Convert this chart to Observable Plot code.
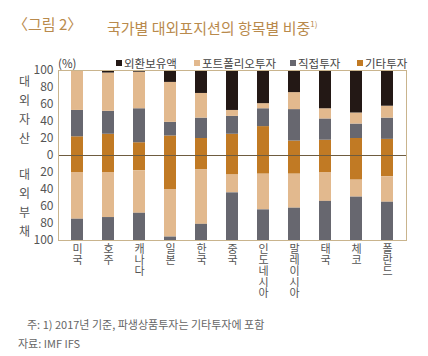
<!DOCTYPE html>
<html><head><meta charset="utf-8">
<script src="https://cdn.jsdelivr.net/npm/d3@7"></script>
<script src="https://cdn.jsdelivr.net/npm/@observablehq/plot@0.6"></script>
<style>
html,body{margin:0;padding:0;background:#fff;}
#wrap{position:relative;width:428px;height:356px;font-family:'Noto Sans CJK KR','Noto Sans',sans-serif;color:#555;overflow:hidden;}
.abs{position:absolute;white-space:nowrap;}
.title{font-size:15px;color:#b98a4c;top:13px;line-height:22px;}
.leg{font-size:11.5px;top:55px;line-height:16px;color:#444;}
.leg i{display:inline-block;width:6px;height:6px;margin-right:2px;vertical-align:2px;}
.note{font-size:11px;color:#666;line-height:14px;}
#chart{position:absolute;left:0;top:55px;}
#chart svg{overflow:visible;}
.vlab text{writing-mode:vertical-rl;text-orientation:upright;}
</style></head>
<body><div id="wrap">
<div id="chart"></div>
<div class="abs title" style="left:13px">〈그림 2〉</div>
<div class="abs title" style="left:107px">국가별 대외포지션의 항목별 비중<sup style="font-size:8px;vertical-align:7px">1)</sup></div>
<div class="abs leg" style="left:58px;">(%)</div>
<div id="legend"></div>
<div class="abs note" style="left:27px;top:317px">주: 1) 2017년 기준, 파생상품투자는 기타투자에 포함</div>
<div class="abs note" style="left:18px;top:336px">자료: IMF IFS</div>
</div>
<script>
const countries = ["미국","호주","캐나다","일본","한국","중국","인도네시아","말레이시아","태국","체코","폴란드"];
const categories = ["외환보유액","포트폴리오투자","직접투자","기타투자"];
const colors = ["#231815","#e2b98e","#67676f","#c17a24"];
// 대외자산 (positive)
const assetOther     = [22,25,15,23,20,25,34,17,18,20,19];
const assetDirect    = [31,27,40,16,24,21,21,37,25,17,25];
const assetPortfolio = [46,45,43,47,29, 7, 6,20,12,13,14];
const assetReserves  = [ 1, 3, 2,14,27,47,39,26,45,50,42];
// 대외부채 (negative)
const liabOther      = [20,20,18,40,17,23,22,22,20,29,25];
const liabPortfolio  = [55,53,50,56,64,21,42,40,34,20,30];
const liabDirect     = [25,27,32, 4,19,56,36,38,46,51,45];
const yTicks = [-100,-80,-60,-40,-20,0,20,40,60,80,100];

const rows = [];
countries.forEach((c,i)=>{
  rows.push({c, cat:"기타투자", v:assetOther[i]});
  rows.push({c, cat:"직접투자", v:assetDirect[i]});
  rows.push({c, cat:"포트폴리오투자", v:assetPortfolio[i]});
  rows.push({c, cat:"외환보유액", v:assetReserves[i]});
  rows.push({c, cat:"기타투자", v:-liabOther[i]});
  rows.push({c, cat:"포트폴리오투자", v:-liabPortfolio[i]});
  rows.push({c, cat:"직접투자", v:-liabDirect[i]});
});

const legX = [116,194,290,357];
const leg = document.getElementById("legend");
categories.forEach((k,i)=>{
  const d = document.createElement("div");
  d.className="abs leg"; d.style.left=legX[i]+"px";
  d.innerHTML = `<i style="background:${colors[i]}"></i>${k}`;
  leg.appendChild(d);
});

const chart = Plot.plot({
  width: 428, height: 250,
  marginLeft: 58, marginRight: 22, marginTop: 15, marginBottom: 65,
  style: {fontFamily: "'Noto Sans CJK KR','Noto Sans',sans-serif", fontSize: "12px", color: "#555", background: "transparent"},
  x: {domain: countries, paddingInner: 0.6, paddingOuter: 0.3, axis: null, label: null},
  y: {domain: [-100,100], axis: null, label: null},
  color: {domain: categories, range: colors},
  marks: [
    Plot.barY(rows, {x: "c", y: "v", fill: "cat"}),
    Plot.ruleY([0], {stroke: "#6e5c40", strokeWidth: 1}),
    Plot.frame({stroke: "#c9b48d"}),
    Plot.axisY({ticks: yTicks, tickFormat: d => Math.abs(d), tickSize: 0, tickPadding: 5, label: null, fill: "#555", fontSize: 12}),
    Plot.text(countries, {x: d => d, text: d => d, frameAnchor: "bottom", textAnchor: "start", dy: 3, fontSize: 11, fill: "#555", className: "vlab"}),
    Plot.text([{y: 55, t: "대\n외\n자\n산"}, {y: -54, t: "대\n외\n부\n채"}],
      {y: "y", text: "t", frameAnchor: "left", dx: -34, textAnchor: "middle", lineHeight: 1.58, fontSize: 12, fill: "#555"})
  ]
});
chart.querySelectorAll(".vlab text").forEach(t => { t.removeAttribute("dy"); t.setAttribute("text-anchor", "start"); });
document.getElementById("chart").appendChild(chart);
</script>
</body></html>
